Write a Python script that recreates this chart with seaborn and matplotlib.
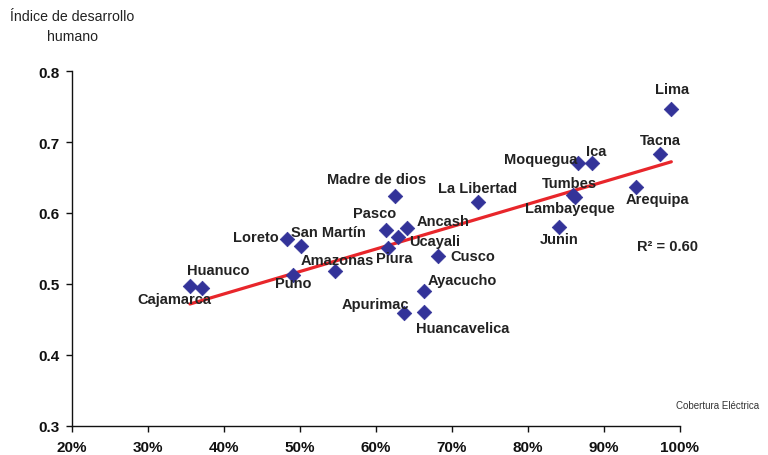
import numpy as np
import pandas as pd
import matplotlib
matplotlib.use("Agg")
import matplotlib.pyplot as plt
import seaborn as sns

# Datos: cobertura electrica vs indice de desarrollo humano por departamento

regiones = ['Lima', 'Tacna', 'Ica', 'Moquegua', 'Tumbes', 'Lambayeque', 'Junin',
            'Arequipa', 'La Libertad', 'Madre de dios', 'Pasco', 'Ancash', 'Ucayali',
            'Piura', 'Cusco', 'Ayacucho', 'Huancavelica', 'Apurimac', 'Amazonas',
            'Puno', 'San Martín', 'Loreto', 'Huanuco', 'Cajamarca']
cobertura = [0.989, 0.974, 0.884, 0.866, 0.859, 0.862, 0.841,
             0.943, 0.734, 0.625, 0.613, 0.641, 0.629,
             0.616, 0.682, 0.663, 0.663, 0.637, 0.546,
             0.491, 0.501, 0.483, 0.371, 0.355]
idh = [0.746, 0.683, 0.670, 0.670, 0.625, 0.623, 0.580,
       0.637, 0.615, 0.624, 0.576, 0.579, 0.566,
       0.551, 0.539, 0.490, 0.461, 0.459, 0.518,
       0.513, 0.554, 0.563, 0.494, 0.497]

x_ticks = [0.2, 0.3, 0.4, 0.5, 0.6, 0.7, 0.8, 0.9, 1.0]
y_ticks = [0.3, 0.4, 0.5, 0.6, 0.7, 0.8]
r2_texto = 'R² = 0.60'

df = pd.DataFrame({'region': regiones, 'cobertura': cobertura, 'idh': idh})

# desplazamiento de etiquetas (pixeles)
offsets = {
    'Lima': (1, 20), 'Tacna': (0, 14), 'Ica': (5, 12), 'Moquegua': (-37, 4),
    'Tumbes': (-3, 12), 'Lambayeque': (-5, -11), 'Junin': (0, -12),
    'Arequipa': (21, -12), 'La Libertad': (0, 14), 'Madre de dios': (-18, 17),
    'Pasco': (-11, 17), 'Ancash': (36, 7), 'Ucayali': (37, -4), 'Piura': (6, -10),
    'Cusco': (35, 0), 'Ayacucho': (39, 11), 'Huancavelica': (39, -16),
    'Apurimac': (-29, 9), 'Amazonas': (2, 11), 'Puno': (0, -8),
    'San Martín': (28, 14), 'Loreto': (-31, 2), 'Huanuco': (16, 18),
    'Cajamarca': (-16, -13),
}

sns.set_style("ticks")
plt.rcParams['font.family'] = ['Liberation Sans', 'DejaVu Sans']

fig = plt.figure(figsize=(7.68, 4.56), dpi=100)
ax = fig.add_axes([0.094, 0.064, 0.791, 0.778])

sns.regplot(data=df, x='cobertura', y='idh', scatter=False, ci=None, truncate=True,
            line_kws={'color': '#e8262b', 'linewidth': 2.3}, ax=ax)
sns.scatterplot(data=df, x='cobertura', y='idh', marker='D', s=55, color='#333399',
                edgecolor='#333399', linewidth=0.5, ax=ax, zorder=3)

for _, row in df.iterrows():
    dx, dy = offsets[row['region']]
    ax.annotate(row['region'], (row['cobertura'], row['idh']), xytext=(dx, dy),
                textcoords='offset pixels', ha='center', va='center',
                fontsize=10.5, fontweight='bold', color='#222222')

ax.set_xlim(0.2, 1.0)
ax.set_ylim(0.3, 0.8)
ax.set_xticks(x_ticks)
ax.set_xticklabels([f'{int(round(t * 100))}%' for t in x_ticks])
ax.set_yticks(y_ticks)
ax.set_yticklabels([f'{t:.1f}' for t in y_ticks])
ax.tick_params(labelsize=11, length=4, width=1, colors='#111111')
ax.tick_params(axis='y', pad=5)
ax.tick_params(axis='x', pad=6)
for lab in ax.get_xticklabels() + ax.get_yticklabels():
    lab.set_fontweight('bold')
ax.set_xlabel('')
ax.set_ylabel('')
sns.despine(ax=ax)
for sp in ['left', 'bottom']:
    ax.spines[sp].set_linewidth(1)
    ax.spines[sp].set_color('#111111')

ax.text(0.984, 0.554, r2_texto, transform=ax.transData, ha='center', va='center',
        fontsize=10.5, fontweight='bold', color='#222222')

fig.text(72 / 768, 1 - 27 / 456, 'Índice de desarrollo\nhumano', ha='center', va='center',
         fontsize=10.2, color='#222222', linespacing=1.55)
fig.text(718 / 768, 1 - 406 / 456, 'Cobertura Eléctrica', ha='center', va='center',
         fontsize=7, color='#333333')

fig.savefig('out.png', dpi=100)
